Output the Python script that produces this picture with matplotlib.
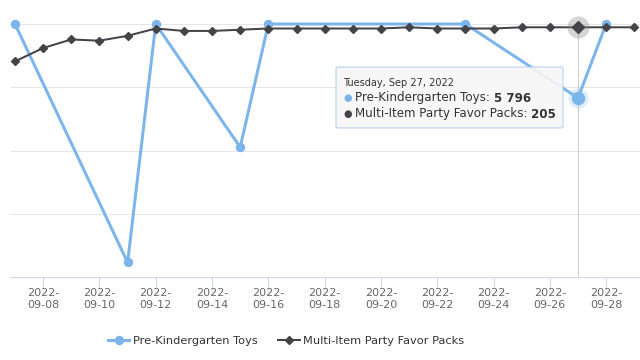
import numpy as np
import matplotlib
matplotlib.use('Agg')
import matplotlib.pyplot as plt
import matplotlib.dates as mdates
from matplotlib.lines import Line2D
from matplotlib.patches import FancyBboxPatch

# data
toys_dates = np.array(['2022-09-07', '2022-09-11', '2022-09-12', '2022-09-15',
                       '2022-09-16', '2022-09-23', '2022-09-27', '2022-09-28'], dtype='datetime64[D]')
toys_values = [8190, 470, 8190, 4200, 8190, 8190, 5796, 8190]

party_dates = np.arange(np.datetime64('2022-09-07'), np.datetime64('2022-09-30'))
party_values = [177, 188, 195, 194, 198, 204, 202, 202, 203, 204, 204, 204,
                204, 204, 205, 204, 204, 204, 205, 205, 205, 205, 205]

tick_dates = np.arange(np.datetime64('2022-09-08'), np.datetime64('2022-09-29'), 2)
hover_date = np.datetime64('2022-09-27')

blue = '#7cb5ec'
dark = '#434348'
px = 0.72  # 1 px in points at dpi 100

fig = plt.figure(figsize=(6.4, 3.6), dpi=100)
ax = fig.add_axes([10 / 640, 1 - 277 / 360, 630 / 640, 253 / 360])
ax2 = ax.twinx()
ax2.set_position(ax.get_position())

# axes ranges
ax.set_ylim(0, 8190)
ax2.set_ylim(0, 207.7)
x0 = mdates.date2num(np.datetime64('2022-09-07'))
ax.set_xlim(x0 - 5 / 28.15, x0 + 625 / 28.15)

for a in (ax, ax2):
    for s in a.spines.values():
        s.set_visible(False)
ax.spines['bottom'].set_visible(True)
ax.spines['bottom'].set_color('#ccd6eb')
ax.spines['bottom'].set_linewidth(px)

ax.set_yticks(np.linspace(0, 8190, 5)[1:])
ax.yaxis.grid(True, color='#e6e6e6', linewidth=px)
ax.tick_params(axis='y', left=False, labelleft=False)
ax2.tick_params(axis='y', right=False, labelright=False)
ax2.set_yticks([])

ax.set_xticks(mdates.date2num(tick_dates))
ax.set_xticklabels([str(d)[:4] + '-\n' + str(d)[5:] for d in tick_dates])
ax.tick_params(axis='x', length=7, width=px, color='#ccd6eb', pad=1,
               labelsize=8, labelcolor='#666666')
ax.set_axisbelow(True)

# crosshair
ax.axvline(mdates.date2num(hover_date), color='#cccccc', linewidth=px, zorder=1)

# series
ax.plot(toys_dates, toys_values, color=blue, linewidth=3 * px, marker='o',
        markersize=8 * px, clip_on=False, zorder=3)
ax.plot([hover_date], [5796], 'o', color=blue, alpha=0.25, markersize=20 * px,
        markeredgewidth=0, clip_on=False, zorder=3)
ax.plot([hover_date], [5796], 'o', color=blue, markersize=12 * px, clip_on=False, zorder=4)

ax2.plot(party_dates, party_values, color=dark, linewidth=2 * px, marker='D',
         markersize=6 * px, clip_on=False, zorder=3)
ax2.plot([hover_date], [205], 'o', color='#888888', alpha=0.35, markersize=22 * px,
         markeredgewidth=0, clip_on=False, zorder=3)
ax2.plot([hover_date], [205], 'D', color=dark, markersize=9 * px, clip_on=False, zorder=4)

# tooltip
W, H = 640, 360
tip = FancyBboxPatch((336 / W, 1 - 128 / H), 227 / W, 61 / H,
                     boxstyle='round,pad=0,rounding_size=0.004',
                     transform=fig.transFigure, facecolor='#f7f7f7', alpha=0.9,
                     edgecolor='#a9c9ea', linewidth=px, zorder=10)
fig.add_artist(tip)
fig.text(343 / W, 1 - 83 / H, 'Tuesday, Sep 27, 2022', fontsize=7, color='#333333',
         va='center', zorder=11)
rows = [(blue, 'Pre-Kindergarten Toys: ', '5 796', 98),
        (dark, 'Multi-Item Party Favor Packs: ', '205', 114)]
fig.canvas.draw()
r = fig.canvas.get_renderer()
for c, label, val, y in rows:
    fig.text(343 / W, 1 - y / H, '\u25cf', fontsize=7, color=c, va='center', zorder=11)
    t = fig.text(355 / W, 1 - y / H, label, fontsize=8.6, color='#333333',
                 va='center', zorder=11)
    bb = t.get_window_extent(renderer=r)
    fig.text(bb.x1 / W, 1 - y / H, val, fontsize=8.6, color='#333333',
             fontweight='bold', va='center', zorder=11)

# legend
handles = [Line2D([], [], color=blue, linewidth=3 * px, marker='o', markersize=8 * px),
           Line2D([], [], color=dark, linewidth=2 * px, marker='D', markersize=6 * px)]
fig.legend(handles, ['Pre-Kindergarten Toys', 'Multi-Item Party Favor Packs'],
           loc='center', bbox_to_anchor=(286 / W, 1 - 341 / H), ncol=2, frameon=False,
           prop={'size': 8.2}, labelcolor='#333333',
           handlelength=1.9, handletextpad=0.3, columnspacing=1.8)

fig.savefig('out.png', dpi=100)
